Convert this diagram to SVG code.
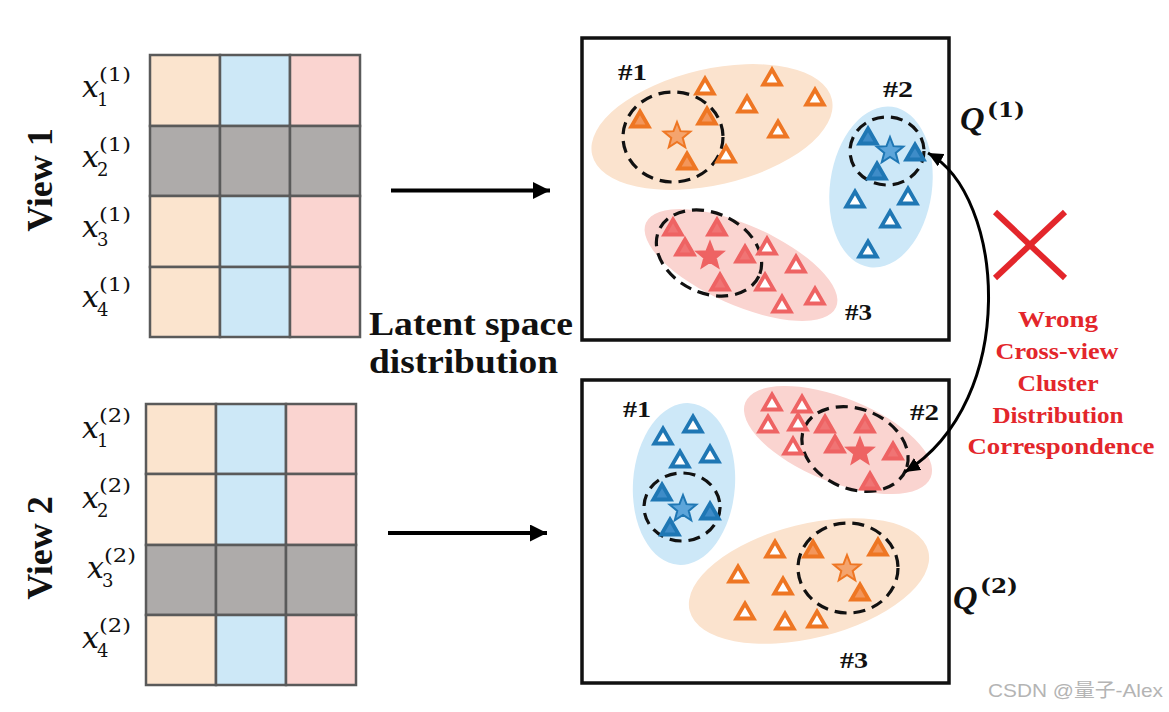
<svg xmlns="http://www.w3.org/2000/svg" width="1169" height="712" viewBox="0 0 1169 712">
<style>
.cell{stroke:#5A5A5A;stroke-width:2.5}
.pe{fill:#FBE4CE}.bl{fill:#CDE8F7}.pk{fill:#FAD4D0}.gy{fill:#AEABAA}
.xv{font-family:"DejaVu Serif","Liberation Serif",serif;font-style:italic;font-size:30px;fill:#111}
.sc{font-family:"DejaVu Serif","Liberation Serif",serif;font-size:18px;fill:#111}
.view{font-family:"Liberation Serif",serif;font-weight:bold;font-size:36px;fill:#111}
.lat{font-family:"Liberation Serif",serif;font-weight:bold;font-size:34px;fill:#111}
.cl{font-family:"Liberation Serif",serif;font-weight:bold;font-size:24px;fill:#111}
.red{font-family:"Liberation Serif",serif;font-weight:bold;font-size:23px;fill:#E3262B;text-anchor:middle}
.q{font-family:"Liberation Serif",serif;font-weight:bold;font-style:italic;font-size:34px;fill:#111}
.qs{font-family:"DejaVu Serif","Liberation Serif",serif;font-weight:bold;font-size:21px;fill:#111}
.box{fill:#fff;stroke:#111;stroke-width:3.5}
.eo{fill:#FBE3CE}.eb{fill:#CDE8F8}.er{fill:#FAD4D0}
.dash{fill:none;stroke:#111;stroke-width:3.2;stroke-dasharray:12 7}
.to{fill:#fff;stroke:#EE7623;stroke-width:3.8}
.tof{fill:#F3965B;stroke:#EE7623;stroke-width:3.8}
.bo{fill:#fff;stroke:#1F77B4;stroke-width:3.8}
.bof{fill:#3E8CC8;stroke:#1F77B4;stroke-width:3.8}
.ro{fill:#fff;stroke:#EE6363;stroke-width:3.8}
.rof{fill:#F07474;stroke:#EE6363;stroke-width:3.8}
.so{fill:#F4A46E;stroke:#EE7623;stroke-width:2}
.sb{fill:#5DA5DA;stroke:#1F77B4;stroke-width:2}
.sr{fill:#EE6363;stroke:#EE6363;stroke-width:2}
.arr{fill:none;stroke:#000;stroke-width:4}
.curve{fill:none;stroke:#000;stroke-width:3}
</style>
<defs>
<path id="tri" d="M0,-8.5 L8.7,6.5 L-8.7,6.5 Z"/>
<path id="star" d="M0,-14 L3.53,-4.85 L13.31,-4.33 L5.71,1.85 L8.23,11.33 L0,6 L-8.23,11.33 L-5.71,1.85 L-13.31,-4.33 L-3.53,-4.85 Z"/>
<marker id="ah" markerUnits="userSpaceOnUse" markerWidth="18" markerHeight="17" refX="17" refY="8.5" orient="auto"><path d="M0,0 L17,8.5 L0,17 Z" fill="#000"/></marker>
<marker id="ah2" markerUnits="userSpaceOnUse" markerWidth="16" markerHeight="14" refX="15" refY="7" orient="auto-start-reverse"><path d="M0,0 L15,7 L0,14 Z" fill="#000"/></marker>
</defs>

<g id="view1-labels">
<text class="view" transform="translate(52,180) rotate(-90)" text-anchor="middle">View 1</text>
<text class="xv" x="82" y="97">x</text><text class="sc" x="97" y="106">1</text><text class="sc" x="99" y="81" textLength="32" lengthAdjust="spacingAndGlyphs">(1)</text>
<text class="xv" x="82" y="167">x</text><text class="sc" x="97" y="176">2</text><text class="sc" x="99" y="151" textLength="32" lengthAdjust="spacingAndGlyphs">(1)</text>
<text class="xv" x="82" y="237">x</text><text class="sc" x="97" y="246">3</text><text class="sc" x="99" y="221" textLength="32" lengthAdjust="spacingAndGlyphs">(1)</text>
<text class="xv" x="82" y="307">x</text><text class="sc" x="97" y="316">4</text><text class="sc" x="99" y="291" textLength="32" lengthAdjust="spacingAndGlyphs">(1)</text>
</g>
<g id="view1-grid">
<rect class="cell pe" x="150" y="55" width="70" height="71"/><rect class="cell bl" x="220" y="55" width="70" height="71"/><rect class="cell pk" x="290" y="55" width="70" height="71"/>
<rect class="cell gy" x="150" y="126" width="70" height="70"/><rect class="cell gy" x="220" y="126" width="70" height="70"/><rect class="cell gy" x="290" y="126" width="70" height="70"/>
<rect class="cell pe" x="150" y="196" width="70" height="71"/><rect class="cell bl" x="220" y="196" width="70" height="71"/><rect class="cell pk" x="290" y="196" width="70" height="71"/>
<rect class="cell pe" x="150" y="267" width="70" height="70"/><rect class="cell bl" x="220" y="267" width="70" height="70"/><rect class="cell pk" x="290" y="267" width="70" height="70"/>
</g>

<g id="view2-labels">
<text class="view" transform="translate(52,548) rotate(-90)" text-anchor="middle">View 2</text>
<text class="xv" x="82" y="438">x</text><text class="sc" x="97" y="447">1</text><text class="sc" x="99" y="422" textLength="32" lengthAdjust="spacingAndGlyphs">(2)</text>
<text class="xv" x="82" y="508">x</text><text class="sc" x="97" y="517">2</text><text class="sc" x="99" y="492" textLength="32" lengthAdjust="spacingAndGlyphs">(2)</text>
<text class="xv" x="87" y="578">x</text><text class="sc" x="102" y="587">3</text><text class="sc" x="104" y="562" textLength="32" lengthAdjust="spacingAndGlyphs">(2)</text>
<text class="xv" x="82" y="648">x</text><text class="sc" x="97" y="657">4</text><text class="sc" x="99" y="632" textLength="32" lengthAdjust="spacingAndGlyphs">(2)</text>
</g>
<g id="view2-grid">
<rect class="cell pe" x="146" y="404" width="70" height="70"/><rect class="cell bl" x="216" y="404" width="70" height="70"/><rect class="cell pk" x="286" y="404" width="70" height="70"/>
<rect class="cell pe" x="146" y="474" width="70" height="71"/><rect class="cell bl" x="216" y="474" width="70" height="71"/><rect class="cell pk" x="286" y="474" width="70" height="71"/>
<rect class="cell gy" x="146" y="545" width="70" height="70"/><rect class="cell gy" x="216" y="545" width="70" height="70"/><rect class="cell gy" x="286" y="545" width="70" height="70"/>
<rect class="cell pe" x="146" y="615" width="70" height="70"/><rect class="cell bl" x="216" y="615" width="70" height="70"/><rect class="cell pk" x="286" y="615" width="70" height="70"/>
</g>

<g id="latent-label">
<text class="lat" x="369" y="335" textLength="204" lengthAdjust="spacingAndGlyphs">Latent space</text>
<text class="lat" x="369" y="373" textLength="189" lengthAdjust="spacingAndGlyphs">distribution</text>
</g>

<g id="panel1">
<rect class="box" x="582" y="38" width="367" height="302"/>
<ellipse class="eo" cx="712" cy="127" rx="123" ry="58" transform="rotate(-13 712 127)"/>
<ellipse class="eb" cx="881" cy="187" rx="51" ry="81" transform="rotate(8 881 187)"/>
<ellipse class="er" cx="741" cy="265" rx="104" ry="40" transform="rotate(24 741 265)"/>
<ellipse class="dash" cx="673" cy="137" rx="50" ry="45"/>
<ellipse class="dash" cx="887" cy="151" rx="37" ry="34"/>
<ellipse class="dash" cx="709" cy="253" rx="55" ry="40" transform="rotate(25 709 253)"/>
<use href="#tri" class="to" x="705" y="87"/><use href="#tri" class="to" x="772" y="78"/><use href="#tri" class="to" x="747" y="105"/>
<use href="#tri" class="to" x="815" y="98"/><use href="#tri" class="to" x="778" y="130"/><use href="#tri" class="to" x="726" y="155"/>
<use href="#tri" class="tof" x="640" y="120"/><use href="#tri" class="tof" x="707" y="117"/><use href="#tri" class="tof" x="687" y="162"/>
<use href="#star" class="so" x="677" y="136"/>
<use href="#tri" class="bo" x="855" y="200"/><use href="#tri" class="bo" x="908" y="197"/><use href="#tri" class="bo" x="890" y="220"/><use href="#tri" class="bo" x="868" y="250"/>
<use href="#tri" class="bof" x="868" y="137"/><use href="#tri" class="bof" x="915" y="153"/><use href="#tri" class="bof" x="877" y="172"/>
<use href="#star" class="sb" x="890" y="151"/>
<use href="#tri" class="rof" x="673" y="228"/><use href="#tri" class="rof" x="717" y="228"/><use href="#tri" class="rof" x="685" y="248"/><use href="#tri" class="rof" x="745" y="255"/><use href="#tri" class="rof" x="720" y="283"/>
<use href="#tri" class="ro" x="767" y="247"/><use href="#tri" class="ro" x="796" y="265"/><use href="#tri" class="ro" x="765" y="283"/><use href="#tri" class="ro" x="815" y="297"/><use href="#tri" class="ro" x="782" y="305"/>
<use href="#star" class="sr" x="710" y="256"/>
<text class="cl" x="618" y="80" textLength="29" lengthAdjust="spacingAndGlyphs">#1</text>
<text class="cl" x="883" y="97" textLength="30" lengthAdjust="spacingAndGlyphs">#2</text>
<text class="cl" x="845" y="320" textLength="27" lengthAdjust="spacingAndGlyphs">#3</text>
</g>
<g id="q1"><text class="q" x="960" y="130">Q</text><text class="qs" x="987" y="117" textLength="38" lengthAdjust="spacingAndGlyphs">(1)</text></g>

<g id="panel2">
<rect class="box" x="582" y="380" width="367" height="303"/>
<ellipse class="eb" cx="684" cy="484" rx="51" ry="81" transform="rotate(4 684 484)"/>
<ellipse class="er" cx="838" cy="440" rx="100" ry="42" transform="rotate(22 838 440)"/>
<ellipse class="eo" cx="809" cy="581" rx="123" ry="57" transform="rotate(-14 809 581)"/>
<ellipse class="dash" cx="682" cy="507" rx="38" ry="34"/>
<ellipse class="dash" cx="855" cy="449" rx="55" ry="40" transform="rotate(22 855 449)"/>
<ellipse class="dash" cx="848" cy="568" rx="50" ry="45"/>
<use href="#tri" class="bo" x="693" y="425"/><use href="#tri" class="bo" x="663" y="437"/><use href="#tri" class="bo" x="680" y="460"/><use href="#tri" class="bo" x="710" y="455"/>
<use href="#tri" class="bof" x="662" y="493"/><use href="#tri" class="bof" x="710" y="512"/><use href="#tri" class="bof" x="670" y="528"/>
<use href="#star" class="sb" x="683" y="509"/>
<use href="#tri" class="ro" x="772" y="403"/><use href="#tri" class="ro" x="802" y="405"/><use href="#tri" class="ro" x="768" y="425"/><use href="#tri" class="ro" x="798" y="423"/><use href="#tri" class="ro" x="793" y="447"/>
<use href="#tri" class="rof" x="825" y="425"/><use href="#tri" class="rof" x="865" y="425"/><use href="#tri" class="rof" x="835" y="445"/><use href="#tri" class="rof" x="893" y="452"/><use href="#tri" class="rof" x="870" y="482"/>
<use href="#star" class="sr" x="860" y="452"/>
<use href="#tri" class="to" x="775" y="550"/><use href="#tri" class="to" x="738" y="575"/><use href="#tri" class="to" x="783" y="587"/><use href="#tri" class="to" x="745" y="612"/><use href="#tri" class="to" x="785" y="622"/><use href="#tri" class="to" x="817" y="620"/>
<use href="#tri" class="tof" x="813" y="550"/><use href="#tri" class="tof" x="878" y="548"/><use href="#tri" class="tof" x="860" y="593"/>
<use href="#star" class="so" x="847" y="569"/>
<text class="cl" x="623" y="417" textLength="28" lengthAdjust="spacingAndGlyphs">#1</text>
<text class="cl" x="910" y="420" textLength="29" lengthAdjust="spacingAndGlyphs">#2</text>
<text class="cl" x="840" y="668" textLength="28" lengthAdjust="spacingAndGlyphs">#3</text>
</g>
<g id="q2"><text class="q" x="953" y="609">Q</text><text class="qs" x="980" y="593" textLength="38" lengthAdjust="spacingAndGlyphs">(2)</text></g>

<g id="connectors">
<line class="arr" x1="391" y1="190.5" x2="550" y2="190.5" marker-end="url(#ah)"/>
<line class="arr" x1="388" y1="533" x2="547" y2="533" marker-end="url(#ah)"/>
<path class="curve" d="M928,153 C1005,195 1020,400 905,472" marker-start="url(#ah2)" marker-end="url(#ah2)"/>
</g>

<g id="wrong-mark">
<line x1="995" y1="212" x2="1065" y2="278" stroke="#E3262B" stroke-width="6"/>
<line x1="1065" y1="212" x2="995" y2="278" stroke="#E3262B" stroke-width="6"/>
<text class="red" x="1058" y="327" textLength="80" lengthAdjust="spacingAndGlyphs">Wrong</text>
<text class="red" x="1057" y="359" textLength="123" lengthAdjust="spacingAndGlyphs">Cross-view</text>
<text class="red" x="1058" y="391" textLength="81" lengthAdjust="spacingAndGlyphs">Cluster</text>
<text class="red" x="1058" y="423" textLength="131" lengthAdjust="spacingAndGlyphs">Distribution</text>
<text class="red" x="1061" y="454" textLength="187" lengthAdjust="spacingAndGlyphs">Correspondence</text>
</g>

<text x="988" y="697" font-family="Liberation Sans,Noto Sans CJK SC,sans-serif" font-size="19" fill="#B4B4B4" textLength="175" lengthAdjust="spacingAndGlyphs">CSDN @量子-Alex</text>
</svg>
